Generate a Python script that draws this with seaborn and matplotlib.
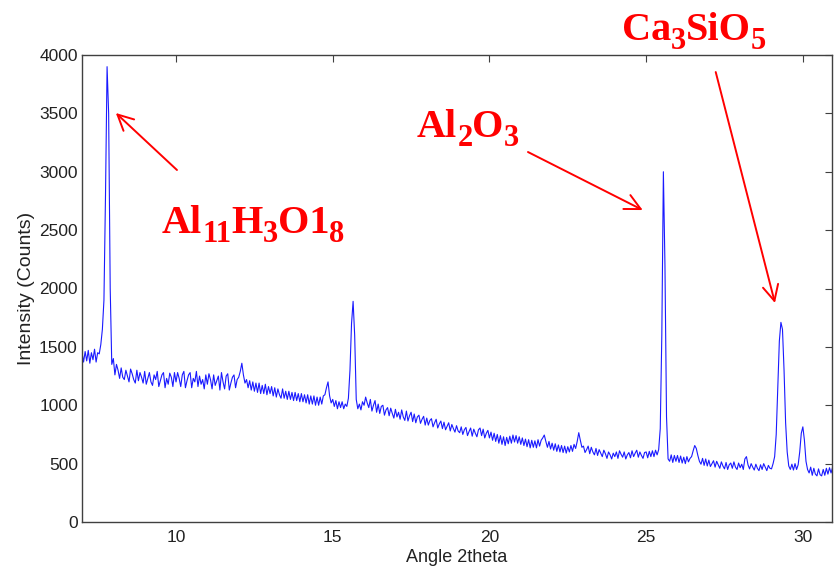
import numpy as np
import pandas as pd
import matplotlib
matplotlib.use("Agg")
import matplotlib.pyplot as plt
import matplotlib.transforms as mtransforms
import seaborn as sns

# ---- data ----
angle_start = 7.00
angle_step = 0.05
intensity = [
    # 7.00 - 7.95
    1450, 1370, 1460, 1380, 1470, 1360, 1450, 1390, 1480, 1370, 1450, 1440, 1520, 1650, 1900, 2800, 3900, 3500, 2000, 1350,
    # 8.00 - 8.95
    1400, 1260, 1350, 1300, 1230, 1320, 1240, 1220, 1300, 1250, 1200, 1310, 1270, 1220, 1190, 1300, 1210, 1280, 1240, 1190,
    # 9.00 - 9.95
    1290, 1180, 1230, 1280, 1200, 1170, 1260, 1220, 1290, 1160, 1210, 1260, 1280, 1150, 1230, 1180, 1275, 1240, 1160, 1280,
    # 10.00 - 10.95
    1200, 1280, 1230, 1160, 1260, 1290, 1150, 1210, 1260, 1280, 1150, 1230, 1200, 1290, 1160, 1250, 1180, 1220, 1140, 1260,
    # 11.00 - 11.95
    1180, 1270, 1220, 1140, 1260, 1170, 1210, 1250, 1130, 1280, 1200, 1140, 1250, 1270, 1130, 1190, 1240, 1260, 1150, 1220,
    # 12.00 - 12.95
    1240, 1290, 1360, 1260, 1190, 1220, 1150, 1210, 1130, 1200, 1120, 1190, 1110, 1190, 1100, 1170, 1100, 1180, 1090, 1160,
    # 13.00 - 13.95
    1100, 1160, 1080, 1150, 1070, 1140, 1090, 1060, 1140, 1060, 1120, 1050, 1120, 1050, 1110, 1040, 1110, 1040, 1100, 1030,
    # 14.00 - 14.95
    1100, 1030, 1090, 1020, 1090, 1010, 1080, 1010, 1080, 1000, 1070, 1000, 1070, 1010, 1080, 1090, 1150, 1200, 1080, 1020,
    # 15.00 - 15.95
    1050, 990, 1040, 970, 1030, 980, 1030, 970, 1010, 990, 1060, 1300, 1700, 1890, 1600, 1050, 970, 1010, 960, 1030,
    # 16.00 - 16.95
    1000, 1070, 1020, 980, 1050, 950, 1000, 1040, 940, 1010, 930, 990, 1000, 915, 960, 980, 910, 975, 930, 890,
    # 17.00 - 17.95
    965, 900, 940, 880, 960, 900, 870, 950, 865, 910, 940, 860, 925, 850, 900, 915, 845, 880, 905, 830,
    # 18.00 - 18.95
    890, 830, 870, 885, 815, 850, 880, 805, 840, 865, 800, 855, 790, 820, 850, 780, 835, 800, 770, 825,
    # 19.00 - 19.95
    780, 765, 815, 750, 790, 810, 740, 775, 805, 735, 795, 760, 730, 790, 805, 740, 795, 720, 760, 785,
    # 20.00 - 20.95
    720, 770, 700, 760, 690, 750, 675, 740, 665, 730, 655, 725, 670, 735, 675, 745, 685, 740, 675, 730,
    # 21.00 - 21.95
    665, 720, 655, 710, 645, 705, 635, 700, 640, 695, 635, 705, 650, 700, 720, 745, 690, 640, 690, 625,
    # 22.00 - 22.95
    675, 615, 670, 605, 660, 600, 655, 595, 650, 590, 645, 600, 655, 605, 665, 630, 690, 765, 700, 640,
    # 23.00 - 23.95
    650, 595, 620, 650, 585, 640, 600, 575, 630, 570, 620, 590, 560, 615, 585, 545, 600, 575, 540, 590,
    # 24.00 - 24.95
    560, 600, 545, 610, 580, 555, 600, 540, 575, 595, 550, 610, 560, 590, 615, 555, 600, 570, 545, 595,
    # 25.00 - 25.95
    600, 550, 605, 560, 610, 560, 615, 575, 620, 800, 1600, 3000, 2200, 900, 540, 520, 575, 510, 570, 520,
    # 26.00 - 26.95
    570, 510, 565, 505, 555, 500, 560, 515, 545, 560, 610, 655, 630, 570, 520, 495, 545, 485, 540, 480,
    # 27.00 - 27.95
    530, 475, 500, 525, 470, 520, 490, 460, 515, 480, 455, 510, 450, 490, 505, 460, 515, 470, 450, 505,
    # 28.00 - 28.95
    465, 495, 450, 540, 560, 490, 455, 500, 470, 445, 495, 460, 440, 490, 450, 500, 470, 440, 485, 460,
    # 29.00 - 29.95
    455, 500, 560, 750, 1150, 1550, 1710, 1650, 1300, 850, 600, 480, 450, 495, 445, 500, 450, 490, 600, 760,
    # 30.00 - 30.95
    815, 700, 520, 450, 420, 470, 400, 460, 410, 395, 455, 405, 395, 450, 400, 460, 410, 465, 420, 470,
]
angle = angle_start + angle_step * np.arange(len(intensity))

x_ticks = [10, 15, 20, 25, 30]
y_ticks = [0, 500, 1000, 1500, 2000, 2500, 3000, 3500, 4000]

# chemical formula labels: (text, is_subscript) pieces
label_parts = [
    [("Al", 0), ("11", 1), ("H", 0), ("3", 1), ("O1", 0), ("8", 1)],
    [("Al", 0), ("2", 1), ("O", 0), ("3", 1)],
    [("Ca", 0), ("3", 1), ("SiO", 0), ("5", 1)],
]
label_pos = [(9.55, 2475), (17.69, 3297), (24.22, 4128)]
arrow_tail = [(10.03, 3015), (21.23, 3169), (27.22, 3854)]
arrow_head = [(8.08, 3503), (24.89, 2672), (29.11, 1876)]

# ---- style ----
sns.set_style("white")
plt.rcParams["font.family"] = ["Liberation Sans", "DejaVu Sans"]

fig = plt.figure(figsize=(8.37, 5.70), dpi=100)
ax = fig.add_axes([82 / 837, 48 / 570, 750 / 837, 467 / 570])

df = pd.DataFrame({"angle": angle, "intensity": intensity})
sns.lineplot(data=df, x="angle", y="intensity", ax=ax, color="#1a1aff", lw=0.8)

ax.set_xlim(7.0, 30.93)
ax.set_ylim(0, 4000)
ax.set_xticks(x_ticks)
ax.set_yticks(y_ticks)
ax.tick_params(direction="in", length=5, width=0.8, color="#404040",
               labelsize=12.5, labelcolor="#222222",
               top=True, right=True, labeltop=False, labelright=False)
ax.tick_params(axis="y", pad=3)
ax.tick_params(axis="x", pad=6)
for s in ax.spines.values():
    s.set_visible(True)
    s.set_color("#404040")
    s.set_linewidth(1.0)

ax.set_xlabel("Angle 2theta", fontsize=13, color="#222222", labelpad=2.5)
ax.set_ylabel("Intensity (Counts)", fontsize=14, color="#222222", labelpad=3)

# formula labels drawn piece by piece so the subscripts sit low like the original
renderer = fig.canvas.get_renderer()
ident = mtransforms.IdentityTransform()
main_size, sub_size, sub_drop = 29, 22, 9
for parts, pos in zip(label_parts, label_pos):
    px, py = ax.transData.transform(pos)
    for txt, is_sub in parts:
        t = fig.text(px, py - (sub_drop if is_sub else 0), txt, transform=ident,
                     color="red", fontsize=sub_size if is_sub else main_size,
                     family="Liberation Serif", fontweight="bold",
                     ha="left", va="baseline")
        px += t.get_window_extent(renderer).width

for tail, head in zip(arrow_tail, arrow_head):
    ax.annotate("", xy=head, xytext=tail,
                arrowprops=dict(arrowstyle="->", color="red", lw=1.4,
                                mutation_scale=28, shrinkA=0, shrinkB=0),
                annotation_clip=False)

fig.savefig("out.png", dpi=100, facecolor="white")
